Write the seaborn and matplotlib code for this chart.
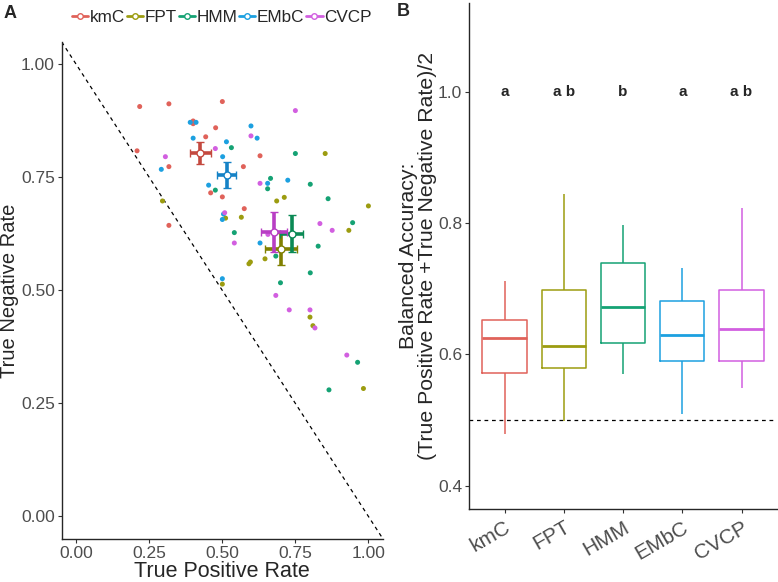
import numpy as np
import pandas as pd
import matplotlib
matplotlib.use("Agg")
import matplotlib.pyplot as plt
from matplotlib.lines import Line2D
import seaborn as sns

# ---------------- data ----------------
methods = ["kmC", "FPT", "HMM", "EMbC", "CVCP"]
point_colors = ["#E0625A", "#9C9C10", "#15A274", "#1CA0E0", "#D25FE0"]
cross_colors = ["#C4493F", "#808000", "#0B8A55", "#1582C6", "#B83EC4"]

kmC_tpr = [0.217, 0.317, 0.500, 0.400, 0.400, 0.443, 0.477, 0.208, 0.317, 0.460, 0.500, 0.317, 0.629, 0.572, 0.575]
kmC_tnr = [0.907, 0.913, 0.918, 0.875, 0.869, 0.840, 0.860, 0.809, 0.774, 0.716, 0.707, 0.644, 0.798, 0.774, 0.681]
FPT_tpr = [0.852, 0.295, 0.511, 0.686, 0.712, 1.000, 0.565, 0.933, 0.646, 0.596, 0.591, 0.500, 0.800, 0.810, 0.983]
FPT_tnr = [0.803, 0.698, 0.660, 0.698, 0.706, 0.687, 0.662, 0.633, 0.570, 0.563, 0.559, 0.514, 0.441, 0.422, 0.283]
HMM_tpr = [0.531, 0.750, 0.476, 0.665, 0.655, 0.801, 0.862, 0.946, 0.541, 0.828, 0.683, 0.801, 0.699, 0.963, 0.865]
HMM_tnr = [0.816, 0.803, 0.722, 0.748, 0.725, 0.735, 0.703, 0.650, 0.628, 0.598, 0.576, 0.539, 0.517, 0.341, 0.280]
EMbC_tpr = [0.390, 0.410, 0.400, 0.514, 0.291, 0.501, 0.453, 0.504, 0.500, 0.598, 0.619, 0.655, 0.724, 0.629, 0.500]
EMbC_tnr = [0.872, 0.872, 0.837, 0.829, 0.768, 0.796, 0.733, 0.669, 0.657, 0.864, 0.837, 0.737, 0.744, 0.605, 0.526]
CVCP_tpr = [0.750, 0.476, 0.305, 0.598, 0.629, 0.508, 0.834, 0.876, 0.541, 0.656, 0.683, 0.729, 0.800, 0.817, 0.926]
CVCP_tnr = [0.898, 0.814, 0.796, 0.842, 0.737, 0.672, 0.648, 0.633, 0.605, 0.624, 0.489, 0.457, 0.457, 0.417, 0.357]

# mean crosses (centre and half-widths of error bars)
mean_tpr = [0.424, 0.701, 0.737, 0.515, 0.677]
mean_tnr = [0.804, 0.592, 0.626, 0.756, 0.629]
err_tpr = [0.036, 0.055, 0.039, 0.033, 0.044]
err_tnr = [0.025, 0.036, 0.042, 0.029, 0.044]

# box plot five-number summaries of balanced accuracy (min, Q1, median, Q3, max)
kmC_ba = [0.479, 0.572, 0.625, 0.653, 0.712]
FPT_ba = [0.498, 0.580, 0.613, 0.698, 0.844]
HMM_ba = [0.571, 0.617, 0.672, 0.739, 0.797]
EMbC_ba = [0.510, 0.590, 0.630, 0.681, 0.732]
CVCP_ba = [0.549, 0.590, 0.639, 0.699, 0.824]
sig_letters = ["a", "a b", "b", "a", "a b"]

# ---------------- build frames ----------------
tprs = [kmC_tpr, FPT_tpr, HMM_tpr, EMbC_tpr, CVCP_tpr]
tnrs = [kmC_tnr, FPT_tnr, HMM_tnr, EMbC_tnr, CVCP_tnr]
pts = pd.DataFrame({
    "method": np.repeat(methods, [len(t) for t in tprs]),
    "tpr": np.concatenate(tprs),
    "tnr": np.concatenate(tnrs),
})
bas = [kmC_ba, FPT_ba, HMM_ba, EMbC_ba, CVCP_ba]
box = pd.DataFrame({
    "method": np.repeat(methods, [len(b) for b in bas]),
    "ba": np.concatenate(bas),
})

# ---------------- style ----------------
sns.set_style("ticks")
plt.rcParams["font.family"] = ["Liberation Sans", "DejaVu Sans"]
plt.rcParams["axes.linewidth"] = 1.0
plt.rcParams["xtick.color"] = "#333333"
plt.rcParams["ytick.color"] = "#333333"
plt.rcParams["xtick.major.size"] = 3
plt.rcParams["ytick.major.size"] = 3

fig = plt.figure(figsize=(7.78, 5.82), dpi=100)
axA = fig.add_axes([0.0793, 0.0739, 0.4130, 0.8541])
axB = fig.add_axes([0.6028, 0.1260, 0.3960, 0.8680])

pal = dict(zip(methods, point_colors))
tick_grey = "#4D4D4D"

# ---------------- panel A ----------------
axA.axline((0, 1), slope=-1, color="black", lw=0.9, ls=(0, (3, 3)), zorder=1)
sns.scatterplot(data=pts, x="tpr", y="tnr", hue="method", hue_order=methods,
                palette=pal, s=13, edgecolor="none", legend=False, ax=axA, zorder=2)
for i, m in enumerate(methods):
    axA.errorbar(mean_tpr[i], mean_tnr[i], xerr=err_tpr[i], yerr=err_tnr[i],
                 color=cross_colors[i], elinewidth=2.6, capsize=3.2, capthick=2.6,
                 fmt="o", markersize=5, markerfacecolor="white",
                 markeredgecolor=cross_colors[i], markeredgewidth=1.0, zorder=3)
axA.set_xlim(-0.05, 1.05)
axA.set_ylim(-0.05, 1.05)
ticks = [0, 0.25, 0.5, 0.75, 1.0]
axA.set_xticks(ticks)
axA.set_yticks(ticks)
axA.set_xticklabels(["0.00", "0.25", "0.50", "0.75", "1.00"], fontsize=12.5, color=tick_grey)
axA.set_yticklabels(["0.00", "0.25", "0.50", "0.75", "1.00"], fontsize=12.5, color=tick_grey)
axA.tick_params(axis="x", pad=2)
axA.tick_params(axis="y", pad=2)
axA.set_xlabel("True Positive Rate", fontsize=15.5, labelpad=0)
axA.set_ylabel("True Negative Rate", fontsize=14.5)
axA.yaxis.set_label_coords(-0.133, 0.5)
sns.despine(ax=axA)

handles = [Line2D([0], [0], color=c, lw=2, marker="o", markersize=4,
                  markerfacecolor="white", markeredgecolor=c, markeredgewidth=1)
           for c in point_colors]
fig.legend(handles, methods, loc="center", bbox_to_anchor=(0.285, 0.970), ncol=5,
           frameon=False, fontsize=12.3, handlelength=0.95, handletextpad=0.08,
           columnspacing=0.12, borderpad=0.1)

# ---------------- panel B ----------------
axB.axhline(0.5, color="black", lw=0.9, ls=(0, (3, 3)), zorder=1)
sns.boxplot(data=box, x="method", y="ba", hue="method", order=methods, hue_order=methods,
            palette=pal, fill=False, width=0.75, whis=np.inf, showcaps=False,
            linewidth=1.1, legend=False, ax=axB,
            medianprops={"linewidth": 2.0})
for i, lab in enumerate(sig_letters):
    axB.text(i, 1.0, lab, ha="center", va="center", fontsize=11, fontweight="bold")
axB.set_xlim(-0.6, 4.6)
axB.set_ylim(0.365, 1.135)
axB.set_yticks([0.4, 0.6, 0.8, 1.0])
axB.set_yticklabels(["0.4", "0.6", "0.8", "1.0"], fontsize=12.5, color=tick_grey)
axB.tick_params(axis="y", pad=2)
axB.set_xticks(range(5))
axB.set_xticklabels(methods, fontsize=15, color=tick_grey, rotation=30, ha="right",
                    rotation_mode="anchor")
axB.set_xlabel("")
axB.set_ylabel("Balanced Accuracy:\n(True Positive Rate +True Negative Rate)/2",
               fontsize=15.3, linespacing=1.0)
axB.yaxis.set_label_coords(-0.104, 0.5)
sns.despine(ax=axB)

fig.text(0.004, 0.992, "A", fontsize=13, fontweight="bold", va="top", ha="left")
fig.text(0.510, 0.995, "B", fontsize=13, fontweight="bold", va="top", ha="left")

fig.savefig("out.png", dpi=100)
